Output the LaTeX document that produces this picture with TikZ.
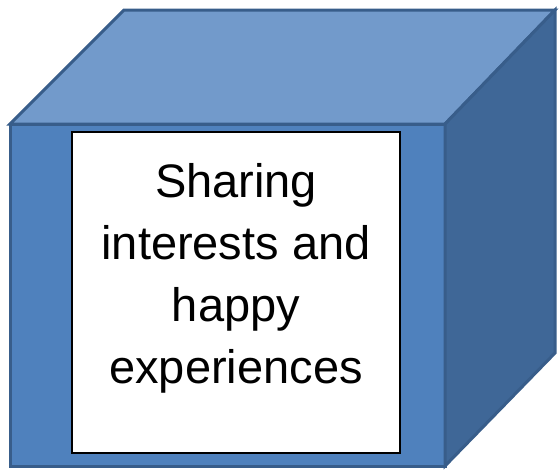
\documentclass[tikz,border=0pt]{standalone}
\usepackage{fontspec}
\setmainfont{Liberation Sans}
\usepackage{tikz}
\usetikzlibrary{positioning}
\definecolor{frontblue}{HTML}{4F81BD}
\definecolor{topblue}{HTML}{729ACB}
\definecolor{sideblue}{HTML}{3F6797}
\definecolor{edgeblue}{HTML}{385D8A}

\begin{document}
\begin{tikzpicture}[x=1pt, y=-1pt,
    face/.style={draw=edgeblue, line width=3pt, line join=miter},
    card/.style={draw=black, line width=1.2pt, fill=white,
        minimum width=328pt, minimum height=321pt, inner sep=0pt}]

\useasboundingbox (0,0) rectangle (560,471);

% Corners
\coordinate (ftl) at (10,124);
\coordinate (ftr) at (445,124);
\coordinate (fbr) at (445,466);
\coordinate (fbl) at (10,466);
\coordinate (btl) at (124,10);
\coordinate (btr) at (555,10);
\coordinate (bbr) at (555,353);

% Faces
\filldraw[face, fill=frontblue] (ftl) -- (ftr) -- (fbr) -- (fbl) -- cycle;
\filldraw[face, fill=topblue] (ftl) -- (btl) -- (btr) -- (ftr) -- cycle;
\filldraw[face, fill=sideblue] (ftr) -- (btr) -- (bbr) -- (fbr) -- cycle;

% Card
\node[card] (box) at (236,292.5) {};

\node[
    align=center,
    font=\fontsize{47}{62}\selectfont
] (label) at (236,278) {Sharing\\interests and\\happy\\experiences};

\end{tikzpicture}
\end{document}
